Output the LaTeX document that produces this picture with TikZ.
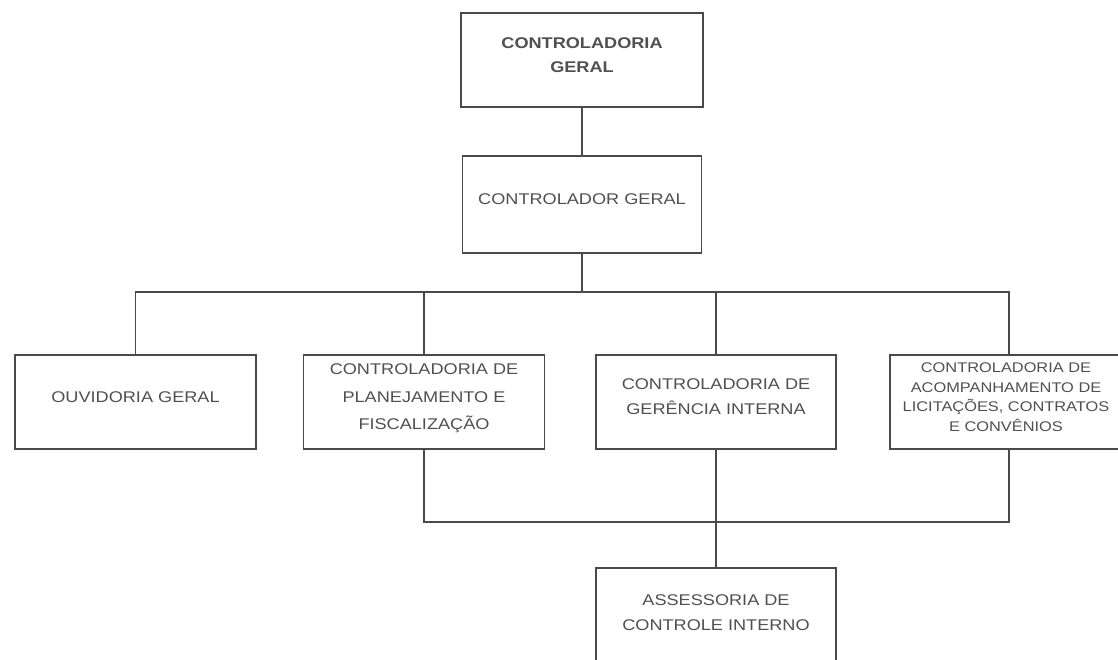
\documentclass[tikz,border=0pt]{standalone}
\usepackage{fontspec}
\setmainfont{Liberation Sans}[FakeStretch=1.17]
\definecolor{linegray}{HTML}{4A4A4A}
\definecolor{textgray}{HTML}{505050}
\tikzset{
	org/.style={draw=linegray, line width=1.7pt, fill=white, align=center,
		text=textgray, inner sep=0pt, text depth=10pt,
		font=\fontsize{15.5}{25}\selectfont},
	org top/.style={org, font=\fontsize{15.5}{24}\selectfont\bfseries},
	org wide/.style={org, font=\fontsize{15.5}{27.5}\selectfont},
	org small/.style={org, font=\fontsize{14}{19.5}\selectfont},
	link/.style={draw=linegray, line width=1.7pt}
}
\begin{document}
\begin{tikzpicture}[x=1pt,y=-1pt]
	\useasboundingbox (0,0) rectangle (1118,660);
	\node[org top, minimum width=242, minimum height=94] (geral) at (582,60) {CONTROLADORIA\\GERAL};
	\node[org, minimum width=239, minimum height=97] (ctrl) at (582,204.5) {CONTROLADOR GERAL};
	\node[org, minimum width=241, minimum height=94] (ouv) at (135.5,402) {OUVIDORIA GERAL};
	\node[org wide, minimum width=241, minimum height=94] (plan) at (424,402) {CONTROLADORIA DE\\PLANEJAMENTO E\\FISCALIZAÇÃO};
	\node[org, minimum width=240, minimum height=94] (ger) at (716,402) {CONTROLADORIA DE\\GERÊNCIA INTERNA};
	\node[org small, minimum width=232, minimum height=94] (acomp) at (1006,402) {CONTROLADORIA DE\\ACOMPANHAMENTO DE\\LICITAÇÕES, CONTRATOS\\E CONVÊNIOS};
	\node[org, minimum width=240, minimum height=100] (assess) at (716,618) {ASSESSORIA DE\\CONTROLE INTERNO};
	% buses
	\coordinate (bus) at (0,292);
	\coordinate (lowbus) at (0,522);
	\coordinate (tap4) at (1009,292);
	\draw[link] (geral) -- (ctrl);
	\draw[link] (ctrl.south) -- (ctrl.south |- bus) -| (ouv.north);
	\draw[link] (ctrl.south |- bus) -| (plan.north);
	\draw[link] (ctrl.south |- bus) -| (ger.north);
	\draw[link] (ctrl.south |- bus) -- (tap4) -- (tap4 |- acomp.north);
	\draw[link] (plan.south) |- (tap4 |- lowbus) -- (tap4 |- acomp.south);
	\draw[link] (ger) -- (assess);
\end{tikzpicture}
\end{document}
